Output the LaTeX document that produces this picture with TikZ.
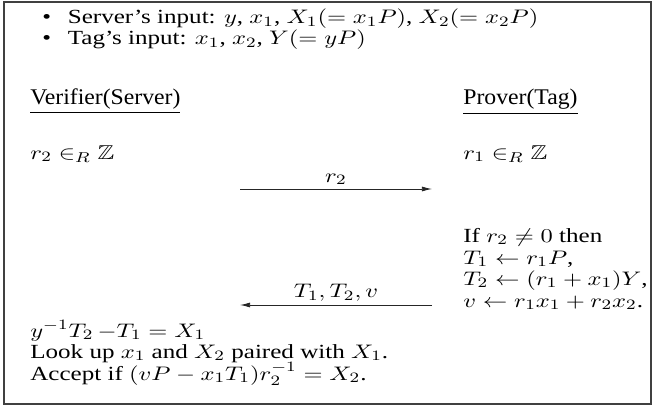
\documentclass[tikz,border=0pt]{standalone}
\usepackage{amsmath,amssymb}
\usepackage{graphicx}
\usepackage{fontspec}
\setmainfont{Liberation Serif}
\usepackage{tikz}
\usetikzlibrary{arrows.meta,positioning}
\newcommand{\wline}[1]{\scalebox{1.25}[1]{#1}}
\newcommand{\whead}[1]{\scalebox{1.06}[1]{\fontsize{12.5}{15}\selectfont\underline{#1}}}

\begin{document}
\begin{tikzpicture}[x=0.5587pt,y=-0.5587pt,>={Latex[length=2mm,width=1mm]},
    font=\fontsize{11.2}{13.5}\selectfont,
    line/.style={anchor=base west,inner sep=0pt},
    msg/.style={->,line width=0.5pt,black!85}]
  \useasboundingbox (0,0) rectangle (653,410);
  \draw[line width=0.6pt,black!75] (4,2) rectangle (651,404);
  % inputs
  \node[line] (srvin) at (42,24) {\wline{\textbullet\hspace{7.5pt}Server's input: $y$, $x_1$, $X_1(=x_1P)$, $X_2(=x_2P)$}};
  \node[line] (tagin) at (42,45) {\wline{\textbullet\hspace{7.5pt}Tag's input: $x_1$, $x_2$, $Y(=yP)$}};
  % parties
  \node[line] (ver) at (30,105) {\whead{Verifier(Server)}};
  \node[line] (prv) at (463,105) {\whead{Prover(Tag)}};
  \node[line] (vr) at (30,159) {\wline{$r_2 \in_R \mathbb{Z}$}};
  \node[line] (pr) at (463,159) {\wline{$r_1 \in_R \mathbb{Z}$}};
  % prover side
  \node[line] (pif) at (463,242) {\wline{If $r_2 \neq 0$ then}};
  \node[line] (pt1) at (463,264) {\wline{$T_1 \leftarrow r_1P$,}};
  \node[line] (pt2) at (463,285) {\wline{$T_2 \leftarrow (r_1+x_1)Y$,}};
  \node[line] (pv) at (463,307) {\wline{$v \leftarrow r_1x_1 + r_2x_2$.}};
  % verifier side
  \node[line] (vchk) at (30,337) {\wline{$y^{-1}T_2\,{-}T_1 = X_1$}};
  \node[line] (vlook) at (30,358) {\wline{Look up $x_1$ and $X_2$ paired with $X_1$.}};
  \node[line] (vacc) at (30,380) {\wline{Accept if $(vP - x_1T_1)r_2^{-1} = X_2$.}};
  % messages
  \coordinate (ma) at (240,189);
  \coordinate (mb) at (432,189);
  \coordinate (mc) at (432,305);
  \coordinate (md) at (240,305);
  \draw[msg] (ma) -- node[above,inner sep=2pt,text=black]{\wline{$r_2$}} (mb);
  \draw[msg] (mc) -- node[above,inner sep=2pt,text=black]{\wline{$T_1, T_2, v$}} (md);
\end{tikzpicture}
\end{document}
